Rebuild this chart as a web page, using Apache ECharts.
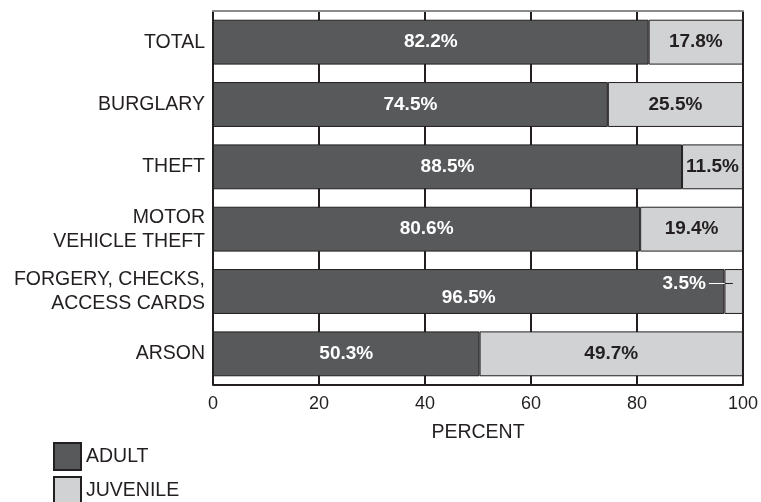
<!DOCTYPE html>
<html>
<head>
<meta charset="utf-8">
<script src="https://cdn.jsdelivr.net/npm/echarts@6/dist/echarts.min.js"></script>
<style>
  html, body { margin: 0; padding: 0; background: #fff; }
  #chart { width: 761px; height: 502px; }
</style>
</head>
<body>
<div id="chart"></div>
<script>
// categories, top to bottom
var categories = ['TOTAL', 'BURGLARY', 'THEFT', 'MOTOR\nVEHICLE THEFT', 'FORGERY, CHECKS,\nACCESS CARDS', 'ARSON'];
var adultValues = [82.2, 74.5, 88.5, 80.6, 96.5, 50.3];
var juvenileValues = [17.8, 25.5, 11.5, 19.4, 3.5, 49.7];
var xTicks = [0, 20, 40, 60, 80, 100];

var font = 'Liberation Sans, Arial, sans-serif';
var edge = '#231f20';
var ink = '#231f20';

var chart = echarts.init(document.getElementById('chart'));

function legendBox(name, top) {
  return {
    left: 48,
    top: top,
    itemWidth: 27,
    itemHeight: 27,
    itemGap: 0,
    icon: 'rect',
    textStyle: { fontSize: 19.5, color: ink, fontFamily: font },
    data: [name]
  };
}

var option = {
  animation: false,
  textStyle: { fontFamily: font },
  grid: { left: 213, right: 18, top: 11, bottom: 117 },
  legend: [legendBox('ADULT', 437), legendBox('JUVENILE', 471)],
  xAxis: [{
    type: 'value',
    min: xTicks[0],
    max: xTicks[xTicks.length - 1],
    interval: 20,
    name: 'PERCENT',
    nameLocation: 'middle',
    nameGap: 38,
    nameTextStyle: { fontSize: 19.5, color: ink },
    axisLine: { show: true, lineStyle: { color: edge, width: 2 } },
    axisTick: { show: false },
    axisLabel: { fontSize: 18, color: ink, margin: 10 },
    splitLine: { show: true, lineStyle: { color: edge, width: 2 } }
  }, {
    type: 'value',
    position: 'top',
    min: 0,
    max: 100,
    axisLine: { show: true, lineStyle: { color: '#8a8a8a', width: 2 } },
    axisTick: { show: false },
    axisLabel: { show: false },
    splitLine: { show: false }
  }],
  yAxis: {
    type: 'category',
    inverse: true,
    data: categories,
    axisLine: { show: false },
    axisTick: { show: false },
    axisLabel: { fontSize: 19.5, color: ink, margin: 8, lineHeight: 24, align: 'right' }
  },
  series: [{
    name: 'ADULT',
    type: 'bar',
    stack: 'all',
    barWidth: '72%',
    data: adultValues,
    labelLayout: function (p) {
      // nudge down where the juvenile label shares the bar
      if (juvenileValues[p.dataIndex] < 5) return { dy: 6 };
      return {};
    },
    itemStyle: { color: '#58595b', borderColor: edge, borderWidth: 1 },
    label: {
      show: true,
      position: 'inside',
      formatter: '{c}%',
      color: '#fff',
      fontWeight: 'bold',
      fontSize: 19
    }
  }, {
    name: 'JUVENILE',
    type: 'bar',
    stack: 'all',
    data: juvenileValues.map(function (v) {
      if (v < 5) {
        // small slice: label sits on the adult bar with a leader line
        return {
          value: v,
          label: {
            color: '#fff',
            formatter: '{c}%{s|}{w|}{k|}',
            rich: {
              s: { width: 3, height: 1 },
              w: { width: 16, height: 1, backgroundColor: '#fff' },
              k: { width: 8, height: 1, backgroundColor: ink }
            }
          }
        };
      }
      return v;
    }),
    labelLayout: function (p) {
      if (juvenileValues[p.dataIndex] < 5) return { dx: -36, dy: -8 };
      return {};
    },
    itemStyle: { color: '#d1d2d4', borderColor: edge, borderWidth: 1 },
    label: {
      show: true,
      position: 'inside',
      formatter: '{c}%',
      color: ink,
      fontWeight: 'bold',
      fontSize: 19
    }
  }]
};

chart.setOption(option);
</script>
</body>
</html>
